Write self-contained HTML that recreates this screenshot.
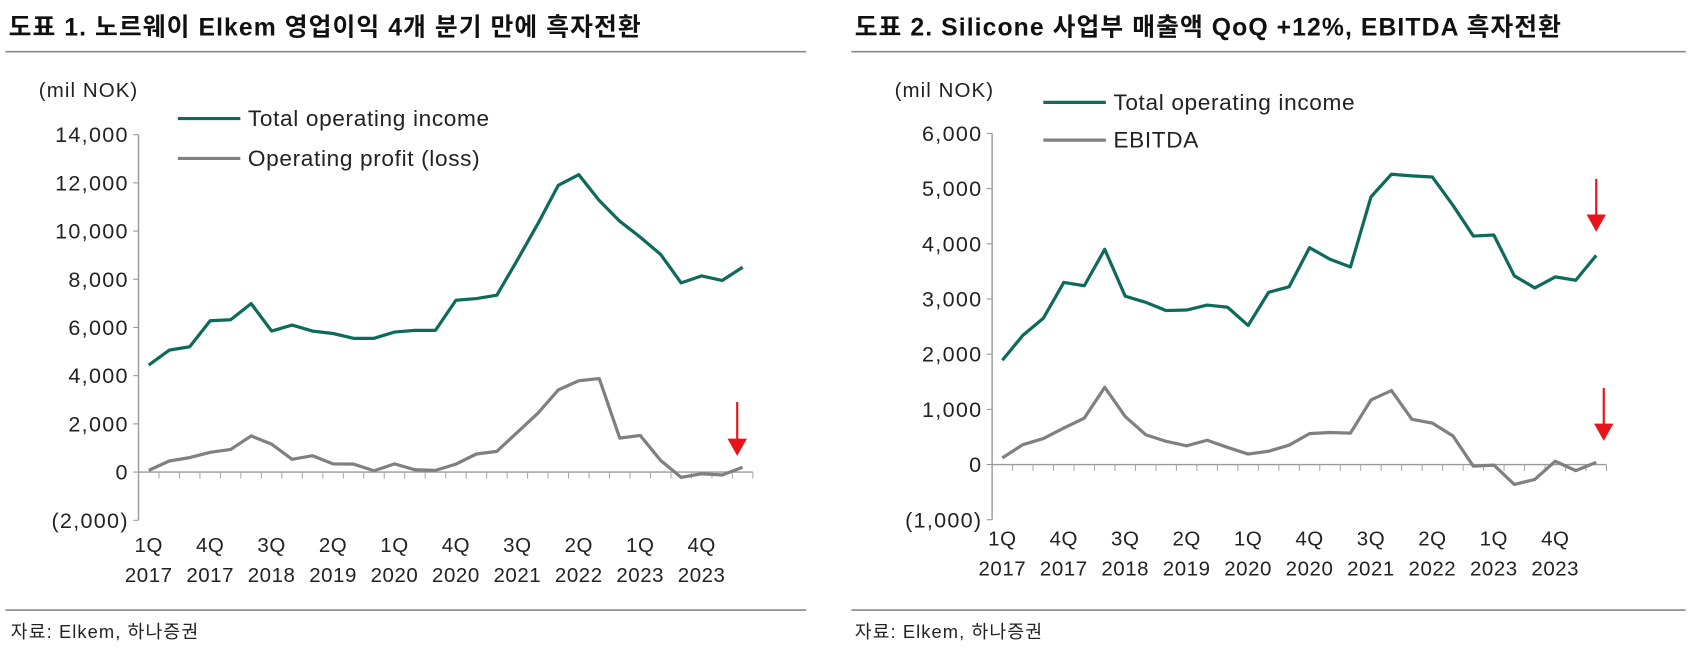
<!DOCTYPE html>
<html><head><meta charset="utf-8"><style>
body{margin:0;background:#fff;width:1690px;height:657px;overflow:hidden;font-family:"Liberation Sans","Noto Sans CJK KR",sans-serif;}
svg text{font-family:"Liberation Sans","Noto Sans CJK KR",sans-serif;}
</style></head><body>
<svg width="1690" height="657">
<g id="s" transform="scale(1.0778)">
<text x="8" y="33" font-size="23" font-weight="bold" letter-spacing="1" fill="#111">도표 1. 노르웨이 Elkem 영업이익 4개 분기 만에 흑자전환</text>
<line x1="5" y1="48" x2="748" y2="48" stroke="#888" stroke-width="1.5"/>
<text x="793" y="33" font-size="23" font-weight="bold" letter-spacing="1" fill="#111">도표 2. Silicone 사업부 매출액 QoQ +12%, EBITDA 흑자전환</text>
<line x1="790" y1="48" x2="1564" y2="48" stroke="#888" stroke-width="1.5"/>
<line x1="5" y1="566" x2="748" y2="566" stroke="#888" stroke-width="1.5"/>
<line x1="790" y1="566" x2="1564" y2="566" stroke="#888" stroke-width="1.5"/>
<text x="10" y="592" font-size="17" letter-spacing="1" fill="#222">자료: Elkem, 하나증권</text>
<text x="793" y="592" font-size="17" letter-spacing="1" fill="#222">자료: Elkem, 하나증권</text>
</g>
</svg>
<script>
const quarterLabels=["1Q","4Q","3Q","2Q","1Q","4Q","3Q","2Q","1Q","4Q"];
const yearLabels=["2017","2017","2018","2019","2020","2020","2021","2022","2023","2023"];
const c1Income=[4440,5060,5200,6280,6320,6990,5850,6100,5850,5750,5550,5550,5810,5880,5880,7130,7200,7340,8800,10300,11900,12340,11270,10410,9750,9030,7850,8140,7950,8500];
const c1Profit=[70,460,600,820,940,1500,1160,530,680,340,330,55,340,95,70,330,750,860,1650,2440,3410,3790,3880,1410,1520,480,-220,-70,-120,200];
const c1Ticks=[14000,12000,10000,8000,6000,4000,2000,0,-2000];
const c2Income=[1890,2340,2650,3300,3240,3900,3050,2940,2790,2800,2890,2850,2520,3120,3220,3930,3720,3580,4850,5260,5230,5210,4700,4140,4160,3420,3200,3400,3340,3790];
const c2Ebitda=[120,360,470,660,840,1400,870,540,420,340,440,310,190,240,350,560,580,570,1170,1340,820,750,520,-30,-10,-360,-270,60,-110,40];
const c2Ticks=[6000,5000,4000,3000,2000,1000,0,-1000];
const s=document.getElementById('s');
const NS='http://www.w3.org/2000/svg';
function mk(t,a){const e=document.createElementNS(NS,t);for(const k in a)e.setAttribute(k,a[k]);s.appendChild(e);return e;}
function fmt(v){const t=Math.abs(v).toLocaleString('en-US');return v<0?'('+t+')':t;}
function chart(p){
  const X=i=>p.x0+i*p.step;
  const Y=v=>p.y0-(v/1000)*p.py;
  const axX=p.x0-p.step/2, n=p.s1.length;
  let e=mk('line',{x1:axX,y1:Y(p.ticks[0]),x2:axX,y2:Y(p.ticks[p.ticks.length-1]),stroke:'#999','stroke-width':1.3});
  
  
  p.ticks.forEach(v=>{
    let t=mk('line',{x1:axX-5,y1:Y(v),x2:axX,y2:Y(v),stroke:'#999'});
    
    
    let l=mk('text',{x:axX-9,y:Y(v)+7,'font-size':20,'letter-spacing':1.2,'text-anchor':'end',fill:'#222'});
    l.textContent=fmt(v);
    
    
  });
  let u=mk('text',{x:p.unitX,y:p.unitY,'font-size':19,'letter-spacing':1,fill:'#222'});u.textContent='(mil NOK)';
  
  
  e=mk('line',{x1:axX,y1:Y(0),x2:axX+n*p.step,y2:Y(0),stroke:'#999','stroke-width':1.3});
  
  
  for(let k=1;k<=n;k++){let t=mk('line',{x1:axX+k*p.step,y1:Y(0),x2:axX+k*p.step,y2:Y(0)+6,stroke:'#aaa'});
    
    }
  quarterLabels.forEach((q,j)=>{
    const x=X(j*3);
    let a=mk('text',{x:x,y:p.lblY,'font-size':19,'letter-spacing':0.5,'text-anchor':'middle',fill:'#222'});a.textContent=q;
    
    
    let b=mk('text',{x:x,y:p.lblY+28,'font-size':19,'letter-spacing':0.5,'text-anchor':'middle',fill:'#222'});b.textContent=yearLabels[j];
    
    
  });
  [[p.s2,'#808080',p.n2],[p.s1,'#0e6b5c',p.n1]].forEach(([d,c,nm])=>{
    let l=mk('polyline',{points:d.map((v,i)=>X(i)+','+Y(v)).join(' '),fill:'none',stroke:c,'stroke-width':3,'stroke-linejoin':'round'});
    
    
  });
  p.legend.forEach((g,i)=>{
    let l=mk('line',{x1:p.lgX,y1:p.lgY+i*p.lgGap,x2:p.lgX+58,y2:p.lgY+i*p.lgGap,stroke:g[1],'stroke-width':3});
    
    
    let t=mk('text',{x:p.lgX+65,y:p.lgY+i*p.lgGap+7,'font-size':21,'letter-spacing':0.6,fill:'#222'});t.textContent=g[0];
    
    
  });
  p.arrows.forEach(a=>{
    let l=mk('line',{x1:a[0],y1:a[1],x2:a[0],y2:a[2]-12,stroke:'#e8141b','stroke-width':2});
    
    
    let h=mk('polygon',{points:`${a[0]-9},${a[2]-16} ${a[0]+9},${a[2]-16} ${a[0]},${a[2]}`,fill:'#e8141b'});
    
    
  });
}
chart({id:'chart1',x0:138,step:19,y0:438,py:22.36,ticks:c1Ticks,s1:c1Income,s2:c1Profit,n1:'total-operating-income-line',n2:'operating-profit-line',
  unitX:36,unitY:90,lblY:512,lgX:165,lgY:110,lgGap:37,legend:[['Total operating income','#0e6b5c'],['Operating profit (loss)','#808080']],arrows:[[684,373,423]]});
chart({id:'chart2',x0:930,step:19,y0:431,py:51.2,ticks:c2Ticks,s1:c2Income,s2:c2Ebitda,n1:'total-operating-income-line',n2:'ebitda-line',
  unitX:830,unitY:90,lblY:506,lgX:968,lgY:95,lgGap:35,legend:[['Total operating income','#0e6b5c'],['EBITDA','#808080']],arrows:[[1481,166,215],[1488,360,409]]});
</script>
</body></html>
